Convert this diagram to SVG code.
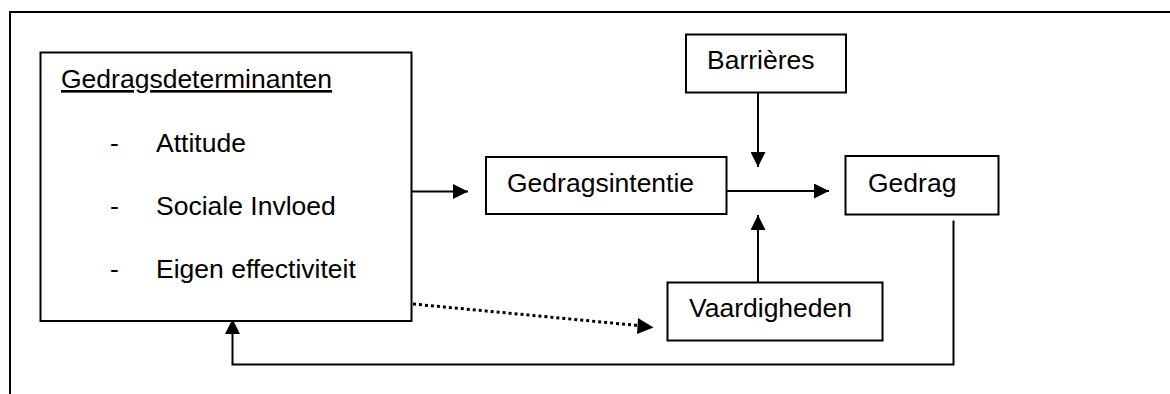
<svg xmlns="http://www.w3.org/2000/svg" width="1170" height="394" viewBox="0 0 1170 394">
<style>
.box{fill:#fff;stroke:#000;stroke-width:2}
.t{font-family:"Liberation Sans",Arial,sans-serif;font-size:26.5px;fill:#000}
.ln{fill:none;stroke:#000;stroke-width:2}
.dot{fill:none;stroke:#000;stroke-width:3;stroke-dasharray:3 3}
</style>
<defs>
<marker id="ah" markerWidth="15" markerHeight="15" refX="15" refY="7.5" orient="auto" markerUnits="userSpaceOnUse">
<path d="M0,0 L15,7.5 L0,15 Z" fill="#000"/>
</marker>
</defs>
<rect width="1170" height="394" fill="#fff"/>
<path class="ln" d="M10,394 V12 H1170"/>
<g id="connectors">
<line class="ln" x1="412" y1="191.5" x2="468" y2="191.5" marker-end="url(#ah)"/>
<line class="ln" x1="727" y1="191" x2="829" y2="191" marker-end="url(#ah)"/>
<line class="ln" x1="758" y1="92" x2="758" y2="167" marker-end="url(#ah)"/>
<line class="ln" x1="758" y1="282" x2="758" y2="215" marker-end="url(#ah)"/>
<line class="dot" x1="413" y1="304" x2="638" y2="325.5"/>
<path d="M638,318 L653.5,327.5 L637,334 Z" fill="#000"/>
<polyline class="ln" points="953.5,220.5 953.5,364.5 232.5,364.5 232.5,334" />
<path d="M225,334 L232.5,319 L240,334 Z" fill="#000"/>
</g>
<g id="determinanten">
<rect class="box" x="40.5" y="52.5" width="371" height="268.5"/>
<text class="t" x="61" y="88" text-decoration="underline">Gedragsdeterminanten</text>
<text class="t" x="110" y="152">-</text>
<text class="t" x="156" y="152">Attitude</text>
<text class="t" x="110" y="215">-</text>
<text class="t" x="156" y="215">Sociale Invloed</text>
<text class="t" x="110" y="278">-</text>
<text class="t" x="156" y="278">Eigen effectiviteit</text>
</g>
<g id="intentie">
<rect class="box" x="486" y="157" width="240.5" height="57"/>
<text class="t" x="507" y="192">Gedragsintentie</text>
</g>
<g id="barrieres">
<rect class="box" x="686" y="34.5" width="160" height="58"/>
<text class="t" x="707" y="69">Barrières</text>
</g>
<g id="gedrag">
<rect class="box" x="845.5" y="156" width="153" height="58.5"/>
<text class="t" x="868" y="192">Gedrag</text>
</g>
<g id="vaardigheden">
<rect class="box" x="667.5" y="282.5" width="215" height="58"/>
<text class="t" x="689" y="317">Vaardigheden</text>
</g>
</svg>
